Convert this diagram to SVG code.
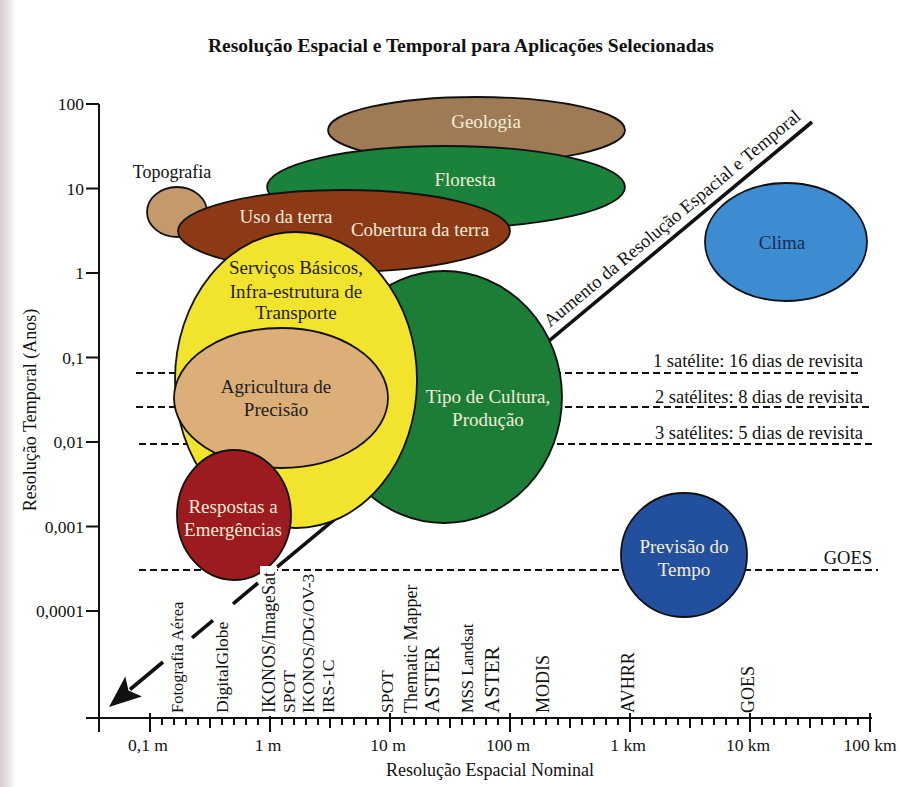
<svg xmlns="http://www.w3.org/2000/svg" width="902" height="787" viewBox="0 0 902 787">
<defs>
<linearGradient id="scan" x1="0" y1="0" x2="1" y2="0">
<stop offset="0" stop-color="#d6cfcf"/>
<stop offset="0.6" stop-color="#ebe7e7"/>
<stop offset="1" stop-color="#ffffff"/>
</linearGradient>
<style>
text{font-family:"Liberation Serif","Times New Roman",serif;fill:#111}
.title{font-size:19.5px;font-weight:bold;text-anchor:middle}
.axt{font-size:18px;text-anchor:middle}
.ytl{font-size:17.5px;text-anchor:end}
.xtl{font-size:17.5px;text-anchor:middle}
.vl{font-size:17.5px}
.big{font-size:21px}
.nl{font-size:19px;text-anchor:middle}
.lt{fill:#f4ecd9}
.dk{fill:#1e1e1e}
.rl{font-size:18.5px;text-anchor:end}
.shape{stroke:#111;stroke-width:1.8}
.dash{stroke:#111;stroke-width:1.8;stroke-dasharray:7 4;fill:none}
.axis{stroke:#111;stroke-width:2;fill:none}
.diag{stroke:#111;stroke-width:3.6;fill:none}
</style>
</defs>
<rect x="0" y="0" width="902" height="787" fill="#ffffff"/>
<rect x="0" y="0" width="16" height="787" fill="url(#scan)"/>

<text class="title" x="461" y="52">Resolução Espacial e Temporal para Aplicações Selecionadas</text>

<g id="revisit-lines">
<line class="dash" x1="136" y1="373" x2="860" y2="373"/>
<line class="dash" x1="136" y1="407" x2="870" y2="407"/>
<line class="dash" x1="139" y1="444" x2="872" y2="444"/>
<line class="dash" x1="139" y1="570" x2="878" y2="570"/>
<text class="rl" x="863" y="367">1 satélite: 16 dias de revisita</text>
<text class="rl" x="863" y="403">2 satélites: 8 dias de revisita</text>
<text class="rl" x="863" y="439">3 satélites: 5 dias de revisita</text>
<text class="rl" x="872" y="564">GOES</text>
</g>

<g id="connectors">
<line class="diag" x1="812" y1="122" x2="277" y2="567.2"/>
<line class="diag" x1="258" y1="583" x2="233" y2="603.8"/>
<line class="diag" x1="213" y1="620.4" x2="192" y2="637.9"/>
<line class="diag" x1="163" y1="662" x2="130" y2="689.5"/>
<polygon points="109,707 125.3,676.5 128.5,690.5 141.9,696.5" fill="#111"/>
<text style="font-size:18.5px;text-anchor:middle" transform="translate(676,223) rotate(-39.77)">Aumento da Resolução Espacial e Temporal</text>
</g>

<g id="geologia">
<ellipse class="shape" cx="476.5" cy="130" rx="148.5" ry="33" fill="#9e7a55"/>
<text class="nl lt" x="486" y="128">Geologia</text>
</g>
<g id="floresta">
<ellipse class="shape" cx="446" cy="187" rx="179" ry="41" fill="#1a823a"/>
<text class="nl lt" x="465" y="186">Floresta</text>
</g>
<g id="topografia">
<ellipse class="shape" cx="177" cy="212" rx="30" ry="25" fill="#c49a6c"/>
<text class="nl" x="172" y="178" style="font-size:18px">Topografia</text>
</g>
<g id="uso-da-terra">
<ellipse class="shape" cx="344" cy="231" rx="166" ry="41" fill="#8c3a16"/>
<text class="nl lt" x="286" y="223">Uso da terra</text>
<text class="nl lt" x="420" y="236">Cobertura da terra</text>
</g>
<g id="tipo-de-cultura">
<ellipse class="shape" cx="444" cy="397" rx="118" ry="126" fill="#1c7d36"/>
<text class="nl lt" x="488" y="403">Tipo de Cultura,</text>
<text class="nl lt" x="488" y="426">Produção</text>
</g>
<g id="servicos-basicos">
<ellipse class="shape" cx="296" cy="380" rx="121" ry="148" fill="#f2e42c"/>
<text class="nl dk" x="296" y="274">Serviços Básicos,</text>
<text class="nl dk" x="296" y="298">Infra-estrutura de</text>
<text class="nl dk" x="296" y="319">Transporte</text>
</g>
<g id="agricultura">
<ellipse class="shape" cx="281" cy="398" rx="107" ry="70" fill="#dcae78"/>
<text class="nl dk" x="276" y="393">Agricultura de</text>
<text class="nl dk" x="276" y="416">Precisão</text>
</g>
<g id="respostas">
<ellipse class="shape" cx="234" cy="515" rx="57" ry="65" fill="#9c1b1f"/>
<text class="nl lt" x="233" y="513">Respostas a</text>
<text class="nl lt" x="233" y="536">Emergências</text>
</g>
<g id="clima">
<ellipse class="shape" cx="786" cy="242" rx="81" ry="59" fill="#3d8bd0"/>
<text class="nl" x="782" y="249" style="fill:#1b2b55">Clima</text>
</g>
<g id="previsao">
<ellipse class="shape" cx="684" cy="555" rx="63" ry="62" fill="#22509e"/>
<text class="nl lt" x="684" y="553">Previsão do</text>
<text class="nl lt" x="684" y="576">Tempo</text>
</g>

<g id="axes">
<line class="axis" x1="99" y1="104" x2="99" y2="732"/>
<line class="axis" x1="86" y1="718" x2="872" y2="718"/>
<path class="axis" d="M86 104H99M86 188.5H99M86 273H99M86 357.5H99M86 442H99M86 526.5H99M86 611H99"/>
<path class="axis" d="M150 713V732M270 713V732M390 713V732M510 713V732M630 713V732M750 713V732M870 713V732"/>
<path class="axis" stroke-width="1.6" d="M210 718V728M330 718V728M450 718V728M570 718V728M690 718V728M810 718V728"/>
<path class="axis" stroke-width="1.4" d="M162 718v7M174 718v7M186 718v7M198 718v7M222 718v7M234 718v7M246 718v7M258 718v7M282 718v7M294 718v7M306 718v7M318 718v7M342 718v7M354 718v7M366 718v7M378 718v7M402 718v7M414 718v7M426 718v7M438 718v7M462 718v7M474 718v7M486 718v7M498 718v7M522 718v7M534 718v7M546 718v7M558 718v7M582 718v7M594 718v7M606 718v7M618 718v7M642 718v7M654 718v7M666 718v7M678 718v7M702 718v7M714 718v7M726 718v7M738 718v7M762 718v7M774 718v7M786 718v7M798 718v7M822 718v7M834 718v7M846 718v7M858 718v7"/>
<text class="ytl" x="84" y="110">100</text>
<text class="ytl" x="84" y="194.5">10</text>
<text class="ytl" x="84" y="279">1</text>
<text class="ytl" x="84" y="363.5">0,1</text>
<text class="ytl" x="84" y="448">0,01</text>
<text class="ytl" x="84" y="532.5">0,001</text>
<text class="ytl" x="84" y="617">0,0001</text>
<text class="xtl" x="148" y="751">0,1 m</text>
<text class="xtl" x="268" y="751">1 m</text>
<text class="xtl" x="388" y="751">10 m</text>
<text class="xtl" x="508" y="751">100 m</text>
<text class="xtl" x="628" y="751">1 km</text>
<text class="xtl" x="748" y="751">10 km</text>
<text class="xtl" x="870" y="751">100 km</text>
<text class="axt" x="490" y="776">Resolução Espacial Nominal</text>
<text class="axt" transform="translate(36,410) rotate(-90)">Resolução Temporal (Anos)</text>
</g>

<g id="sensors">
<rect x="260" y="566" width="17" height="150" fill="#ffffff"/>
<text class="vl" style="font-size:16.5px" transform="translate(182.5,713) rotate(-90)">Fotografia Aérea</text>
<text class="vl" transform="translate(227.5,713) rotate(-90)">DigitalGlobe</text>
<text class="vl" style="font-size:18px" transform="translate(275,713) rotate(-90)">IKONOS/ImageSat</text>
<text class="vl" transform="translate(294.5,713) rotate(-90)">SPOT</text>
<text class="vl" transform="translate(313.5,713) rotate(-90)">IKONOS/DG/OV-3</text>
<text class="vl" transform="translate(333.5,713) rotate(-90)">IRS-1C</text>
<text class="vl" transform="translate(392.5,713) rotate(-90)">SPOT</text>
<text class="vl" style="font-size:18px" transform="translate(417,713) rotate(-90)">Thematic Mapper</text>
<text class="vl big" transform="translate(439,713) rotate(-90)">ASTER</text>
<text class="vl" style="font-size:16.5px" transform="translate(473,713) rotate(-90)">MSS Landsat</text>
<text class="vl big" transform="translate(499,713) rotate(-90)">ASTER</text>
<text class="vl" style="font-size:18px" transform="translate(549,713) rotate(-90)">MODIS</text>
<text class="vl" style="font-size:18px" transform="translate(634,713) rotate(-90)">AVHRR</text>
<text class="vl" style="font-size:18px" transform="translate(754,713) rotate(-90)">GOES</text>
</g>
</svg>
